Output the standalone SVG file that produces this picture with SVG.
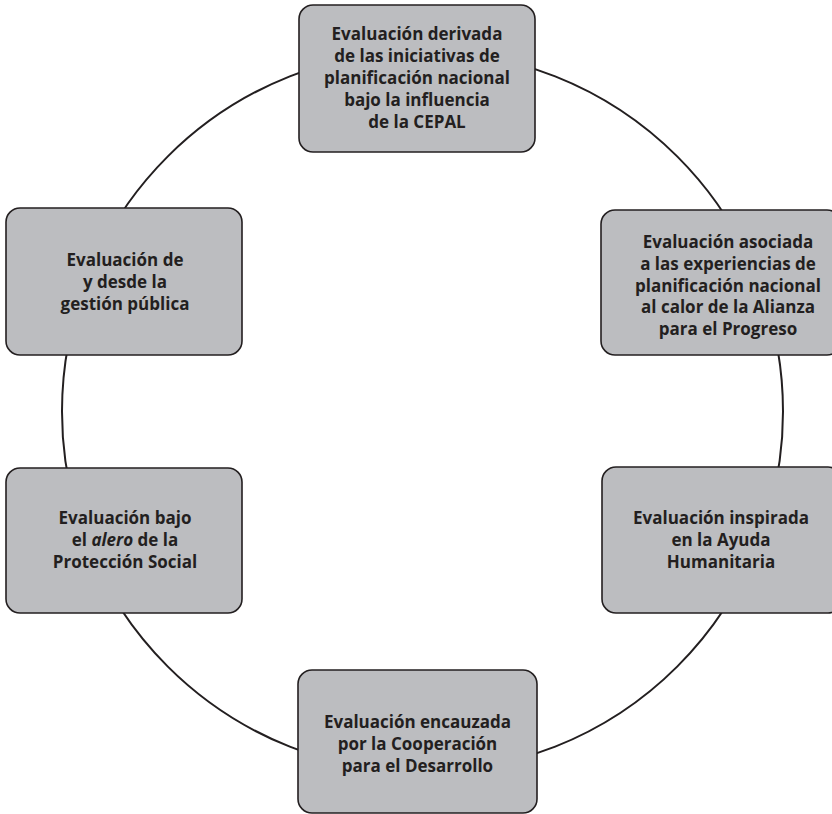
<svg xmlns="http://www.w3.org/2000/svg" width="832" height="814" viewBox="0 0 832 814">
<style>
.box{fill:#bcbdc0;stroke:#231f20;stroke-width:1.6}
.conn{fill:none;stroke:#231f20;stroke-width:2}
text{font-family:"Open Sans","Liberation Sans",sans-serif;font-weight:700;font-size:17px;fill:#231f20;text-anchor:middle}
</style>
<rect width="832" height="814" fill="#ffffff"/>
<g id="connectors">
<circle class="conn" cx="422.5" cy="411.5" r="360.5"/>
</g>
<g id="node-top">
<rect class="box" x="299" y="5" width="236" height="147" rx="14"/>
<text x="417" y="40">Evaluación derivada</text>
<text x="417" y="62">de las iniciativas de</text>
<text x="417" y="84">planificación nacional</text>
<text x="417" y="106">bajo la influencia</text>
<text x="417" y="128">de la CEPAL</text>
</g>
<g id="node-right-top">
<rect class="box" x="601" y="210" width="240" height="145" rx="14"/>
<text x="728" y="248">Evaluación asociada</text>
<text x="728" y="270">a las experiencias de</text>
<text x="728" y="292">planificación nacional</text>
<text x="728" y="313">al calor de la Alianza</text>
<text x="728" y="335">para el Progreso</text>
</g>
<g id="node-left-top">
<rect class="box" x="6" y="208" width="236" height="147" rx="14"/>
<text x="125" y="266">Evaluación de</text>
<text x="125" y="288">y desde la</text>
<text x="125" y="310">gestión pública</text>
</g>
<g id="node-left-bottom">
<rect class="box" x="6" y="468" width="236" height="145" rx="14"/>
<text x="125" y="524">Evaluación bajo</text>
<text x="125" y="546">el <tspan font-style="italic">alero</tspan> de la</text>
<text x="125" y="568">Protección Social</text>
</g>
<g id="node-right-bottom">
<rect class="box" x="602" y="467" width="240" height="146" rx="14"/>
<text x="721" y="524">Evaluación inspirada</text>
<text x="721" y="546">en la Ayuda</text>
<text x="721" y="568">Humanitaria</text>
</g>
<g id="node-bottom">
<rect class="box" x="298" y="670" width="239" height="143" rx="14"/>
<text x="417.5" y="728">Evaluación encauzada</text>
<text x="417.5" y="750">por la Cooperación</text>
<text x="417.5" y="772">para el Desarrollo</text>
</g>
</svg>
